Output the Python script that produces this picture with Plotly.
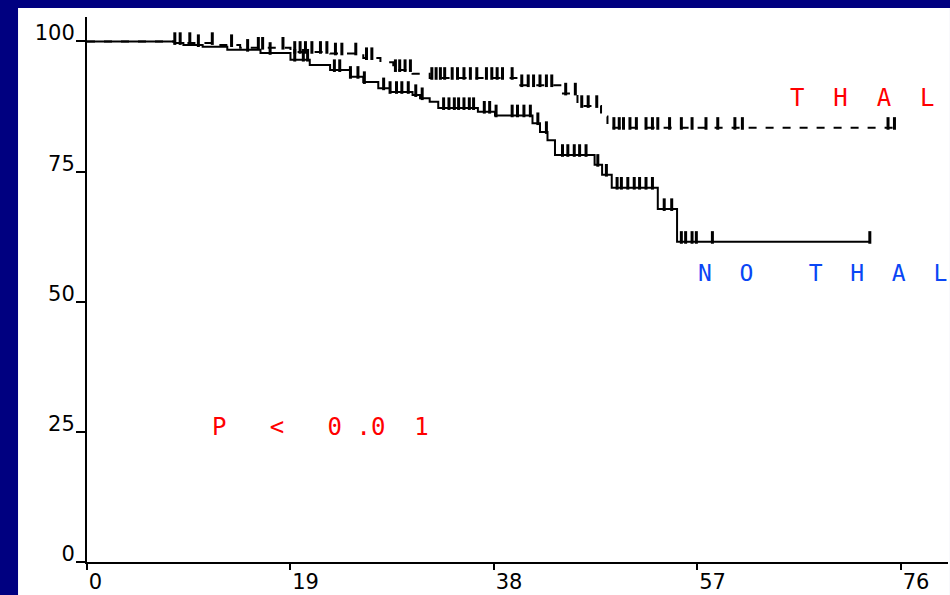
import bisect
import plotly.graph_objects as go

# ---- data (time in months, survival in %) ----
nothal_time = [0, 8.2, 9.0, 10.8, 13.1, 16.2, 19.0, 20.8, 22.7, 24.6, 25.8, 27.2, 28.3,
               30.4, 31.1, 32.0, 32.8, 36.5, 38.1, 41.6, 42.3, 43.0, 43.7, 47.4, 48.1,
               49.0, 53.3, 55.1, 73.1]
nothal_surv = [100, 99.7, 99.3, 99.0, 98.4, 97.8, 96.5, 95.5, 94.5, 93.2, 92.2, 91.0, 90.3,
               89.7, 89.1, 88.4, 87.2, 86.5, 85.8, 84.3, 82.6, 81.0, 78.2, 76.3, 74.4,
               71.9, 67.8, 61.5, 61.5]

thal_time = [0, 8.2, 12.0, 14.3, 19.0, 22.7, 25.8, 27.4, 28.6, 30.4, 32.0, 40.1, 44.2,
             45.8, 48.0, 48.6, 75.9]
thal_surv = [100, 99.7, 99.3, 98.8, 98.0, 97.7, 96.8, 96.0, 94.5, 93.8, 93.0, 91.6, 90.0,
             87.6, 85.6, 83.4, 83.4]

thal_censor = [8.2, 9.6, 11.7, 13.5, 16.0, 16.4, 18.3, 19.4, 19.9, 20.4, 21.0, 21.8, 22.4,
               23.2, 23.8, 25.1, 26.1, 26.6, 28.8, 29.2, 29.7, 30.2, 32.2, 32.6, 33.0, 33.4,
               34.1, 34.6, 35.2, 35.8, 36.4, 37.3, 37.8, 38.3, 38.8, 39.7, 40.6, 41.2, 41.7,
               42.3, 42.9, 43.4, 44.7, 45.6, 46.2, 46.8, 47.6, 49.2, 49.7, 50.1, 50.7, 51.3,
               52.2, 52.8, 53.3, 54.4, 55.5, 56.5, 57.8, 58.9, 60.5, 61.2, 74.8, 75.4]
nothal_censor = [8.7, 10.4, 15.0, 17.1, 19.4, 20.2, 20.6, 23.1, 23.6, 24.6, 25.3, 25.9, 27.7,
                 28.3, 28.9, 29.4, 30.0, 30.7, 31.3, 33.3, 33.8, 34.3, 34.7, 35.2, 35.7, 36.1,
                 37.1, 37.6, 38.2, 39.7, 40.2, 40.8, 41.4, 42.1, 42.9, 44.4, 44.9, 45.5, 46.0,
                 46.6, 47.7, 48.5, 49.5, 49.9, 50.5, 51.1, 51.6, 52.2, 52.8, 53.9, 54.6, 55.5,
                 55.9, 56.5, 56.9, 58.4, 73.1]

x_ticks = [0, 19, 38, 57, 76]
y_ticks = [0, 25, 50, 75, 100]


def step_value(t, times, vals):
    i = bisect.bisect_right(times, t) - 1
    return vals[max(i, 0)]


TICK_UP = 0.85  # raise censor ticks so they sit on top of the curve

fig = go.Figure()

fig.add_trace(go.Scatter(x=thal_time, y=thal_surv, mode="lines", line_shape="hv",
                         line=dict(color="black", width=2, dash="8px,9px"),
                         hoverinfo="skip"))
fig.add_trace(go.Scatter(x=thal_censor,
                         y=[step_value(t, thal_time, thal_surv) + TICK_UP for t in thal_censor],
                         mode="markers",
                         marker=dict(symbol="line-ns", size=9,
                                     line=dict(color="black", width=3)),
                         hoverinfo="skip"))
fig.add_trace(go.Scatter(x=nothal_time, y=nothal_surv, mode="lines", line_shape="hv",
                         line=dict(color="black", width=2), hoverinfo="skip"))
fig.add_trace(go.Scatter(x=nothal_censor,
                         y=[step_value(t, nothal_time, nothal_surv) + TICK_UP for t in nothal_censor],
                         mode="markers",
                         marker=dict(symbol="line-ns", size=9,
                                     line=dict(color="black", width=3)),
                         hoverinfo="skip"))

nb = "\u00a0"
mono = "DejaVu Sans Mono, monospace"
fig.add_annotation(x=65.45, y=89.1, xref="x", yref="y", xanchor="left", yanchor="middle",
                   text=f"T{nb*2}H{nb*2}A{nb*2}L", showarrow=False,
                   font=dict(color="#ff0000", family=mono, size=24))
fig.add_annotation(x=56.85, y=55.5, xref="x", yref="y", xanchor="left", yanchor="middle",
                   text=f"N{nb*2}O{nb*4}T{nb*2}H{nb*2}A{nb*2}L", showarrow=False,
                   font=dict(color="#0a46f5", family=mono, size=23))
fig.add_annotation(x=11.5, y=25.9, xref="x", yref="y", xanchor="left", yanchor="middle",
                   text=f"P{nb*3}<{nb*3}0{nb}.0{nb*2}1", showarrow=False,
                   font=dict(color="#ff0000", family=mono, size=24))

# white panel on the navy slide background
fig.add_shape(type="rect", xref="paper", yref="paper",
              x0=-0.0801, x1=1.0023, y0=-0.0606, y1=1.0165,
              fillcolor="white", line=dict(width=0), layer="below")

tick_font = dict(family="DejaVu Sans, sans-serif", size=21, color="black")
fig.update_layout(
    width=950, height=595,
    margin=dict(l=87, r=2, t=17, b=33),
    paper_bgcolor="#000080", plot_bgcolor="white",
    showlegend=False,
    xaxis=dict(range=[0, 80.4], tickvals=x_ticks, ticktext=[str(v) for v in x_ticks],
               ticks="outside", ticklen=6, tickwidth=1.5, tickcolor="black",
               showline=True, linewidth=2, linecolor="black",
               showgrid=False, zeroline=False, ticklabelposition="outside right",
               tickfont=tick_font, fixedrange=True),
    yaxis=dict(range=[0, 104.7], tickvals=y_ticks, ticktext=[str(v) for v in y_ticks],
               ticks="outside", ticklen=9, tickwidth=1.5, tickcolor="black",
               showline=True, linewidth=2, linecolor="black",
               showgrid=False, zeroline=False, ticklabelposition="outside top",
               ticklabelshift=7, ticklabelstandoff=6,
               tickfont=tick_font, fixedrange=True),
)

fig.write_html("out.html", config={"displayModeBar": False},
               post_script="document.body.style.margin='0px';document.body.style.padding='0px';document.body.style.overflow='hidden';")
